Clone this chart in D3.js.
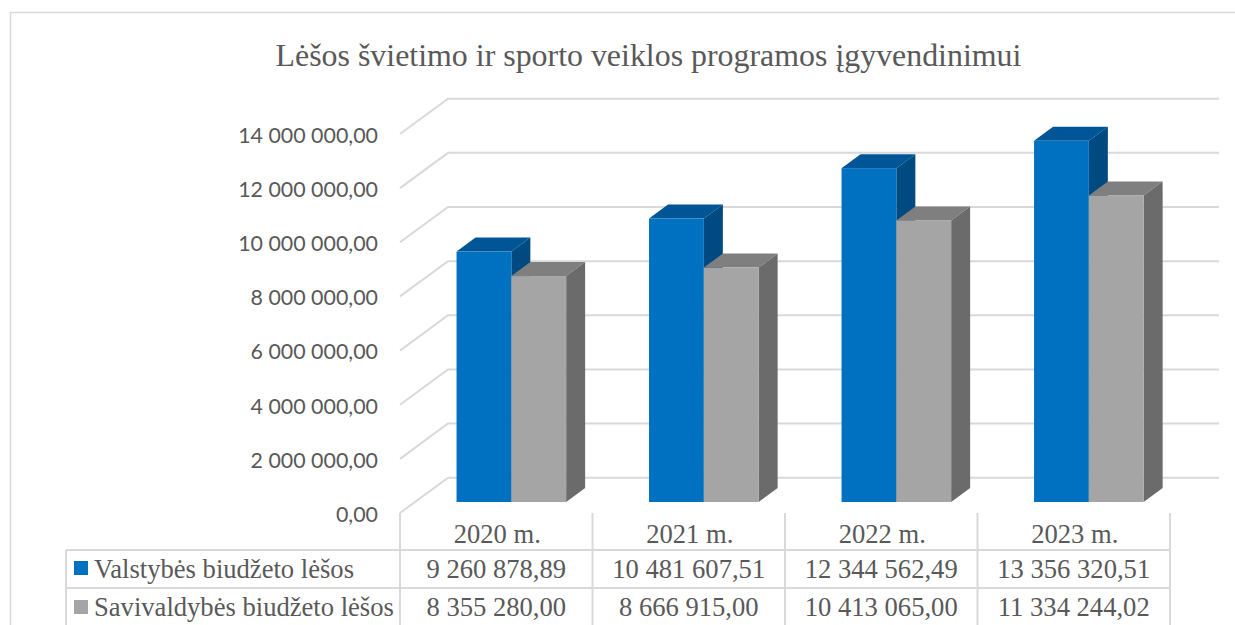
<!DOCTYPE html>
<html><head><meta charset="utf-8">
<script src="https://cdn.jsdelivr.net/npm/d3@7"></script>
<style>html,body{margin:0;padding:0;background:#fff;overflow:hidden}svg{display:block}</style>
</head><body><svg id="c" width="1235" height="625"></svg>
<script>
const titleText = "Lėšos švietimo ir sporto veiklos programos įgyvendinimui";
const categories = ["2020 m.","2021 m.","2022 m.","2023 m."];
const seriesNames = ["Valstybės biudžeto lėšos","Savivaldybės biudžeto lėšos"];
const stateValues = [9260878.89,10481607.51,12344562.49,13356320.51];
const muniValues = [8355280.00,8666915.00,10413065.00,11334244.02];
const yTicks = [0,2000000,4000000,6000000,8000000,10000000,12000000,14000000];

const svg = d3.select("#c");
const W=1235,H=625;
const serif='"Liberation Serif",serif', sans='Lato,sans-serif', ink='#595959', grid='#d9d9d9';
const colors=[{front:'#0070c0',top:'#005596',side:'#004a82'},{front:'#a5a5a5',top:'#7f7f7f',side:'#6b6b6b'}];
const fmt=d3.formatLocale({decimal:",",thousands:"\u00a0",grouping:[3]}).format(",.2f");

// frame
svg.append("path").attr("d",`M10.5,${H}V12.5H${W}`).attr("fill","none").attr("stroke",grid).attr("stroke-width",1.5);

// title
svg.append("text").attr("x",648.5).attr("y",66).attr("text-anchor","middle")
  .attr("font-family",serif).attr("font-size",31.9).attr("fill",ink).text(titleText);

// scales
const wallDx=48, wallDy=35.3, barDx=19, barDy=14;
const yFront=d3.scaleLinear().domain([0,14000000]).range([513,134]);
const yBar=d3.scaleLinear().domain([0,14000000]).range([502,123.4]);
const xCat=d3.scaleBand().domain(categories).range([400,1170]);
const xSer=d3.scaleBand().domain([0,1]).range([0,109.6]);
const barLeft=c=>xCat(c)+xCat.bandwidth()/2-39.7;

// wall grid
svg.append("g").selectAll("path").data(yTicks).join("path")
  .attr("d",v=>`M400,${yFront(v)}L${400+wallDx},${yFront(v)-wallDy}H1219`)
  .attr("fill","none").attr("stroke",grid).attr("stroke-width",2);

// axis
const axis=d3.axisLeft(yFront).tickValues(yTicks).tickFormat(fmt).tickSize(0).tickPadding(0);
const axG=svg.append("g").attr("transform","translate(378,1.5)").call(axis);
axG.select(".domain").remove();
axG.selectAll("text").attr("font-family",sans).attr("font-size",21.4).attr("fill",ink);

// 3D bars
const barData=categories.flatMap((c,i)=>[{c,s:0,v:stateValues[i]},{c,s:1,v:muniValues[i]}]);
const bars=svg.append("g").selectAll("g").data(barData).join("g");
bars.append("path").attr("fill",d=>colors[d.s].top).attr("d",d=>{
  const x=barLeft(d.c)+xSer(d.s),w=xSer.bandwidth(),y=yBar(d.v);
  return `M${x},${y}l${barDx},${-barDy}h${w}l${-barDx},${barDy}Z`;});
bars.append("path").attr("fill",d=>colors[d.s].side).attr("d",d=>{
  const x=barLeft(d.c)+xSer(d.s)+xSer.bandwidth(),y=yBar(d.v),y0=yBar(0);
  return `M${x},${y}l${barDx},${-barDy}V${y0-barDy}l${-barDx},${barDy}Z`;});
bars.append("rect").attr("fill",d=>colors[d.s].front)
  .attr("x",d=>barLeft(d.c)+xSer(d.s)).attr("width",xSer.bandwidth())
  .attr("y",d=>yBar(d.v)).attr("height",d=>yBar(0)-yBar(d.v));

// data table
const rowTop=[550,588], keyOffset=[11,12], tableLeft=66;
const t=svg.append("g");
const edges=[...categories.map(c=>xCat(c)),xCat.range()[1]];
t.selectAll(".v").data(edges).join("line").attr("class","v")
  .attr("x1",d=>d).attr("x2",d=>d).attr("y1",513).attr("y2",H)
  .attr("stroke",grid).attr("stroke-width",2);
t.selectAll(".h").data(rowTop).join("line").attr("class","h")
  .attr("x1",tableLeft).attr("x2",1171).attr("y1",d=>d).attr("y2",d=>d)
  .attr("stroke",grid).attr("stroke-width",2);
t.append("line").attr("x1",tableLeft).attr("x2",tableLeft).attr("y1",550).attr("y2",H)
  .attr("stroke",grid).attr("stroke-width",2);
const cellFont=26.6;
t.selectAll(".cat").data(categories).join("text").attr("class","cat")
  .attr("x",c=>xCat(c)+xCat.bandwidth()/2+1).attr("y",543).attr("text-anchor","middle")
  .attr("font-family",serif).attr("font-size",cellFont).attr("fill",ink).text(c=>c);
[stateValues,muniValues].forEach((vals,r)=>{
  const base=rowTop[r]+28;
  t.append("rect").attr("x",74).attr("y",rowTop[r]+keyOffset[r]).attr("width",14).attr("height",14).attr("fill",colors[r].front);
  t.append("text").attr("x",94).attr("y",base).attr("font-family",serif).attr("font-size",cellFont)
    .attr("fill",ink).text(seriesNames[r]);
  t.selectAll(".r"+r).data(vals).join("text").attr("class","r"+r)
    .attr("x",(v,i)=>xCat(categories[i])+xCat.bandwidth()/2).attr("y",base).attr("text-anchor","middle")
    .attr("font-family",serif).attr("font-size",cellFont).attr("fill",ink).text(v=>fmt(v));
});
</script></body></html>
